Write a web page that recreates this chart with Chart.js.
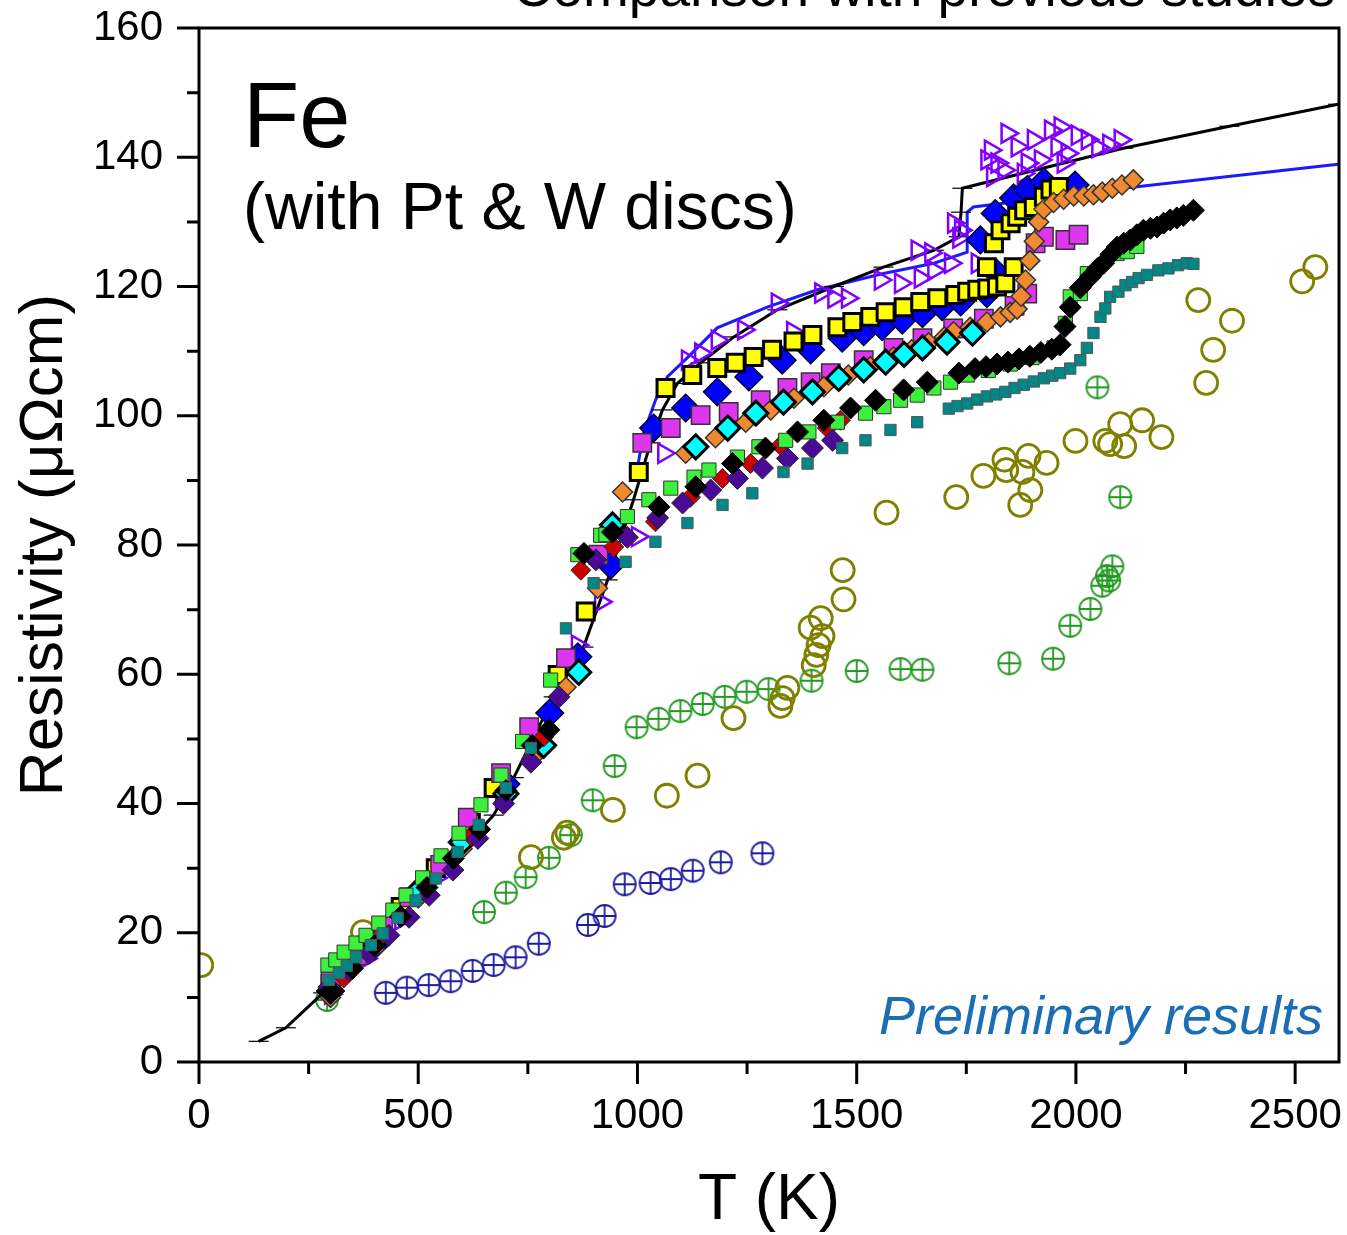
<!DOCTYPE html>
<html>
<head>
<meta charset="utf-8">
<script src="https://cdn.jsdelivr.net/npm/chart.js@4.4.0/dist/chart.umd.min.js"></script>
<style>
  html, body { margin: 0; padding: 0; background: #fff; overflow: hidden; }
  #wrap { width: 1347px; height: 1235px; }
</style>
</head>
<body>
<div id="wrap"><canvas id="c" width="1347" height="1235"></canvas></div>
<script>
// T (K), resistivity (µΩcm) pairs
const xTicks = [0, 500, 1000, 1500, 2000, 2500];
const yTicks = [0, 20, 40, 60, 80, 100, 120, 140, 160];

const blackLine = [[136,3.2],[198,5.3],[283,10.7],[350,15],[420,20],[500,26],[580,31.5],[672,38.2],[718,44],[809,56.5],[877,64.2],[932,74.6],[991,87],[1030,95.8],[1057,100.9],[1091,105],[1144,108.2],[1220,112.2],[1319,116.4],[1448,120],[1561,123],[1676,125.6],[1733,127.7],[1738,131.5],[1741,135.2],[2108,141.4],[2350,144.8],[2598,148.2]];
const blueLine = [[1000,92],[1014,97.3],[1041,102.4],[1068,106],[1114,109],[1182,113.6],[1296,116.8],[1410,119.5],[1561,122],[1676,123.6],[1752,125.3],[1752,131.5],[1766,132.3],[2108,135.2],[2598,138.9]];

const violetTri = [[300,10.5],[380,16],[460,22],[540,28.5],[620,35],[690,41],[760,49],[863,64.5],[916,71.2],[1000,81.3],[1060,94.2],[1114,108.6],[1144,109.7],[1182,111.7],[1242,113.3],[1319,117.4],[1354,113],[1418,119],[1448,118.2],[1479,118.2],[1554,121],[1600,120.5],[1638,125.6],[1645,121.3],[1669,125.2],[1676,122.5],[1714,123.6],[1721,129.8],[1733,127.5],[1737,128.7],[1775,123.6],[1797,139.6],[1805,141.1],[1810,137],[1820,139.1],[1836,138],[1843,143.7],[1866,141.6],[1880,137.5],[1889,139.1],[1903,142.7],[1919,139.6],[1942,144.2],[1957,141.6],[1964,144.7],[1971,139.1],[1980,140.6],[2003,143.4],[2026,142.7],[2050,141.5],[2075,142],[2101,142.7]];
const blueDia = [[300,11],[400,18],[500,26],[600,34],[700,43],[800,54],[864,62.7],[939,76.9],[1037,98.1],[1110,101.2],[1182,103.7],[1254,106],[1330,108.6],[1395,110.2],[1467,112],[1516,113],[1558,113.8],[1604,114.8],[1650,115.8],[1695,116.9],[1737,117.6],[1782,127.2],[1797,118.9],[1816,131.3],[1820,122],[1858,133.7],[1889,135],[1927,136.2],[1998,135.7]];
const yellowSq = [[300,12],[380,18],[460,24],[540,30],[620,37],[672,42.4],[818,59.9],[882,69.7],[1003,91.3],[1064,104.3],[1125,106.3],[1182,107.4],[1224,108.2],[1265,109.1],[1307,110.2],[1356,111.5],[1399,112.5],[1456,113.7],[1490,114.5],[1531,115.3],[1566,116],[1607,116.8],[1645,117.6],[1684,118.2],[1725,118.7],[1752,119.2],[1775,119.5],[1797,123],[1798,119.7],[1813,126.7],[1820,120],[1828,128.7],[1839,120.5],[1851,129.8],[1858,123],[1866,130.8],[1882,131.8],[1904,132.3],[1927,133.9],[1942,135],[1961,135.4]];
const magentaSq = [[300,12.5],[360,16.5],[420,21],[480,25.5],[550,30.5],[613,37.8],[689,44.7],[753,51.8],[837,62.5],[911,78.5],[1011,95.8],[1076,98.1],[1144,100.1],[1208,100.6],[1281,102.4],[1342,104.3],[1395,105.2],[1441,106.6],[1516,108.6],[1584,110.5],[1650,112],[1720,113.5],[1790,115],[1860,117],[1889,118.9],[1908,126.7],[1927,127.7],[1976,127.2],[2006,128]];
const orangeDia = [[300,10],[400,17.5],[500,25.5],[600,33],[700,41],[760,47],[837,58],[909,73.3],[966,88.2],[1110,94.2],[1178,96.6],[1247,99],[1304,100.9],[1357,102.7],[1425,104.5],[1481,106.3],[1531,107.6],[1584,109.1],[1625,110.2],[1664,111.3],[1700,112.2],[1721,113],[1759,113.7],[1797,114.5],[1828,115.3],[1850,116],[1866,116.5],[1875,118.5],[1885,121],[1895,124],[1905,127],[1915,130],[1927,132],[1949,133],[1972,133.5],[1995,134],[2018,134],[2040,134.2],[2060,134.6],[2083,135.2],[2105,135.7],[2131,136.5]];
const cyanDia = [[300,11],[400,18.5],[500,26.5],[600,34],[700,41.5],[786,49],[866,60.3],[943,83.1],[1133,95.2],[1206,98.1],[1270,100.4],[1333,102.1],[1399,103.7],[1459,105.8],[1516,107.1],[1566,108.3],[1608,109.5],[1650,110.5],[1706,111.4],[1764,112.8]];
const blackDia = [[300,11],[350,14.5],[400,18],[460,22.5],[520,27],[580,31.5],[640,36],[700,42],[760,49],[798,51.4],[878,78.7],[943,82],[1049,85.9],[1133,89],[1217,92.6],[1292,95],[1365,97.5],[1425,99.3],[1486,101.2],[1543,102.4],[1607,104],[1661,105.2],[1733,106.6],[1770,107.3],[1795,107.6],[1820,108],[1845,108.3],[1870,108.8],[1895,109.2],[1920,109.8],[1945,110.3],[1964,111],[1975,113.8],[1987,116.8],[2010,119.8],[2033,121.5],[2050,122.8],[2063,123.6],[2080,125],[2094,126.1],[2109,126.7],[2124,127.2],[2139,128],[2154,128.7],[2170,129],[2185,129.2],[2200,129.8],[2215,130.3],[2230,130.6],[2245,131],[2268,131.8]];
const redDia = [[330,13],[420,20],[520,27],[620,35],[786,50.3],[871,76.1],[946,79.7],[1041,83.6],[1121,87.4],[1194,90.3],[1258,92.6],[1326,95.4],[1433,98.1],[1463,99.3]];
const indigoDia = [[296,11.6],[342,14.2],[388,16.8],[433,19.6],[479,22.4],[525,25.8],[579,29.7],[636,34.6],[695,40],[757,46.4],[821,56.5],[905,77.7],[977,81.2],[1046,84.2],[1103,86.5],[1167,88.5],[1228,90.3],[1285,91.9],[1342,93.4],[1399,95],[1445,96.2]];
const greenSq = [[294,15],[312,15.8],[331,17],[358,18.4],[381,19.6],[410,21.5],[442,23.5],[472,25.8],[510,28.5],[552,31.9],[593,35.4],[643,39.8],[689,44.4],[738,49.6],[802,59.1],[864,78.5],[916,81.5],[928,81.6],[977,84.4],[1026,87],[1076,88.8],[1129,90.5],[1163,91.6],[1228,93.6],[1277,95.2],[1338,96.2],[1391,97.5],[1456,99],[1520,100.4],[1562,101.4],[1600,102.4],[1638,103.2],[1676,104.3],[1714,105.2],[1752,106.3],[1800,107],[1850,108],[1900,109],[1950,110.5],[1976,114.3],[1987,118.4],[2010,118.9],[2026,122],[2094,125.1],[2117,125.4],[2139,126.2]];
const tealSq = [[296,12.7],[319,13.8],[337,14.9],[358,16.2],[392,18.1],[419,19.9],[453,22.3],[494,25],[540,28.4],[590,32.5],[638,36.7],[700,42.4],[757,48.6],[837,67.1],[900,74.1],[973,77.4],[1041,80.5],[1114,83.4],[1194,86.2],[1262,88],[1333,91.3],[1388,92.6],[1467,95],[1520,96.2],[1577,97.8],[1638,99],[1710,101.1],[1730,101.5],[1752,101.9],[1775,102.5],[1797,103],[1818,103.3],[1839,103.7],[1860,104.3],[1881,104.8],[1904,105.3],[1927,105.8],[1946,106.2],[1964,106.6],[1987,107.3],[2010,108.6],[2025,110.5],[2040,112.8],[2056,115.3],[2067,116.6],[2078,118.4],[2097,119.2],[2113,120.2],[2128,120.7],[2143,121.3],[2162,121.8],[2188,122.5],[2211,122.8],[2233,123.3],[2253,123.6],[2268,123.5]];
const oliveCirc = [[5,15],[374,20.1],[757,31.7],[832,34.7],[840,35.5],[944,39],[1067,41.2],[1137,44.3],[1219,53.2],[1326,55.1],[1331,56.3],[1342,57.9],[1395,67.2],[1402,61.4],[1408,63],[1413,64.5],[1418,68.7],[1422,65.9],[1468,76.1],[1470,71.6],[1568,85],[1727,87.4],[1789,90.7],[1837,93.2],[1841,91.6],[1873,86.2],[1878,91.3],[1892,93.8],[1896,88.5],[1933,92.7],[1999,96.1],[2067,96.1],[2078,95.6],[2101,98.7],[2110,95.3],[2151,99.3],[2195,96.7],[2279,117.9],[2297,105.1],[2313,110.2],[2356,114.7],[2516,120.8],[2546,123]];
const greenPlus = [[292,9.6],[650,23.2],[700,26.2],[745,28.6],[798,31.6],[848,35.1],[898,40.5],[948,45.8],[998,51.8],[1048,53.1],[1098,54.3],[1149,55.4],[1199,56.5],[1249,57.3],[1299,57.7],[1397,59],[1500,60.5],[1600,60.8],[1650,60.7],[1848,61.7],[1948,62.4],[1987,67.5],[2033,70.1],[2060,73.7],[2071,75.2],[2076,74.5],[2083,76.7],[2101,87.4],[2049,104.4]];
const navyPlus = [[426,10.7],[474,11.5],[524,11.9],[574,12.5],[624,14.1],[672,15],[722,16.2],[775,18.3],[887,21.2],[925,22.6],[971,27.5],[1030,27.7],[1076,28.3],[1126,29.6],[1190,30.9],[1285,32.3]];

const FONT = "'Liberation Sans', Arial, sans-serif";
const pts = arr => arr.map(p => ({ x: p[0], y: p[1] }));

// circle with a plus inside, used as an image point style
function plusCircle(color) {
  const c = document.createElement('canvas');
  c.width = c.height = 26;
  const g = c.getContext('2d');
  g.strokeStyle = color;
  g.lineWidth = 1.8;
  g.beginPath(); g.arc(13, 13, 11, 0, Math.PI * 2); g.stroke();
  g.beginPath(); g.moveTo(2, 13); g.lineTo(24, 13); g.moveTo(13, 2); g.lineTo(13, 24); g.stroke();
  return c;
}

function markers(data, style, radius, fill, border, bw, rot) {
  return {
    type: 'scatter', data: pts(data), pointStyle: style, pointRadius: radius,
    pointBackgroundColor: fill, pointBorderColor: border, pointBorderWidth: bw,
    pointRotation: rot || 0, pointHoverRadius: radius
  };
}

// axis frame, outward ticks (major + minor) and the free text
const decor = {
  id: 'decor',
  afterDatasetsDraw(chart) {
    const { ctx, chartArea: a, scales: { x, y } } = chart;
    ctx.save();
    ctx.strokeStyle = '#000';
    ctx.lineWidth = 3;
    ctx.strokeRect(a.left, a.top, a.right - a.left, a.bottom - a.top);
    ctx.beginPath();
    for (let v = 0; v <= 2600; v += 250) {
      const px = x.getPixelForValue(v);
      const len = xTicks.includes(v) ? 22 : 12;
      ctx.moveTo(px, a.bottom); ctx.lineTo(px, a.bottom + len);
    }
    for (let v = 0; v <= 160; v += 10) {
      const py = y.getPixelForValue(v);
      const len = yTicks.includes(v) ? 22 : 12;
      ctx.moveTo(a.left, py); ctx.lineTo(a.left - len, py);
    }
    ctx.stroke();

    ctx.fillStyle = '#000';
    ctx.textBaseline = 'alphabetic';
    ctx.textAlign = 'left';
    ctx.font = '92px ' + FONT;
    ctx.fillText('Fe', 243, 147);
    ctx.font = '66px ' + FONT;
    ctx.fillText('(with Pt & W discs)', 243, 229);
    ctx.textAlign = 'right';
    ctx.font = '55px ' + FONT;
    ctx.fillText('Comparison with previous studies', 1335, 6);
    ctx.fillStyle = '#1b6db5';
    ctx.font = 'italic 54px ' + FONT;
    ctx.fillText('Preliminary results', 1323, 1034);
    ctx.restore();
  }
};

// label offset comes from invisible tick marks so the layout padding is not inflated
const hiddenGrid = len => ({ display: true, drawOnChartArea: false, drawTicks: true, tickLength: len, tickColor: 'rgba(0,0,0,0)' });

new Chart(document.getElementById('c'), {
  type: 'scatter',
  data: {
    datasets: [
      markers(tealSq, 'rect', 8, '#008888', '#555', 1),
      markers(blackDia, 'rectRot', 11, '#000', '#000', 1),
      markers(greenSq, 'rect', 10, '#3cf03c', '#333', 1),
      markers(indigoDia, 'rectRot', 11, '#4b0a96', '#222', 1),
      markers(redDia, 'rectRot', 10, '#cc0000', '#333', 1),
      markers(cyanDia, 'rectRot', 12, '#00ffff', '#000', 3),
      markers(orangeDia, 'rectRot', 10, '#f08a30', '#333', 1.5),
      markers(magentaSq, 'rect', 13, '#dd35f0', '#333', 1.5),
      markers(yellowSq, 'rect', 12, '#ffff00', '#000', 3),
      markers(blueDia, 'rectRot', 14, '#0000ff', '#000', 1.2),
      markers(violetTri, 'triangle', 11, 'rgba(0,0,0,0)', '#8000ff', 2.5, 90),
      {
        type: 'line', data: pts(blackLine), borderColor: '#000', borderWidth: 3,
        pointStyle: 'line', pointRadius: 10, pointBorderWidth: 1.2, pointBorderColor: '#000',
        tension: 0, fill: false
      },
      {
        type: 'line', data: pts(blueLine), borderColor: '#1a1aff', borderWidth: 3,
        pointRadius: 0, tension: 0, fill: false
      },
      markers(oliveCirc, 'circle', 11.5, 'rgba(0,0,0,0)', '#808000', 2.8),
      markers(greenPlus, plusCircle('#229922'), 13, '#229922', '#229922', 1),
      markers(navyPlus, plusCircle('#1c1ca0'), 13, '#1c1ca0', '#1c1ca0', 1)
    ]
  },
  options: {
    responsive: false,
    animation: false,
    events: [],
    layout: { autoPadding: false, padding: { top: 28, right: 8, left: 0, bottom: 0 } },
    plugins: { legend: { display: false }, tooltip: { enabled: false } },
    scales: {
      x: {
        type: 'linear', min: 0, max: 2600,
        grid: hiddenGrid(29), border: { display: false },
        afterBuildTicks(s) { s.ticks = xTicks.map(v => ({ value: v })); },
        ticks: { padding: 0, color: '#000', maxRotation: 0, font: { family: FONT, size: 42 }, callback: v => String(v) },
        title: { display: true, text: 'T (K)', color: '#000', font: { family: FONT, size: 64, lineHeight: 1.05 }, padding: 0 },
        afterFit(s) { s.height = 173; s.paddingRight = 0; s.paddingLeft = 0; }
      },
      y: {
        type: 'linear', min: 0, max: 160,
        grid: hiddenGrid(36), border: { display: false },
        afterBuildTicks(s) { s.ticks = yTicks.map(v => ({ value: v })); },
        ticks: { padding: 0, color: '#000', font: { family: FONT, size: 42 }, callback: v => String(v) },
        title: { display: true, text: 'Resistivity (μΩcm)', color: '#000', font: { family: FONT, size: 62 }, padding: { top: 8, bottom: 0 } },
        afterFit(s) { s.width = 199; }
      }
    }
  },
  plugins: [decor]
});
</script>
</body>
</html>
